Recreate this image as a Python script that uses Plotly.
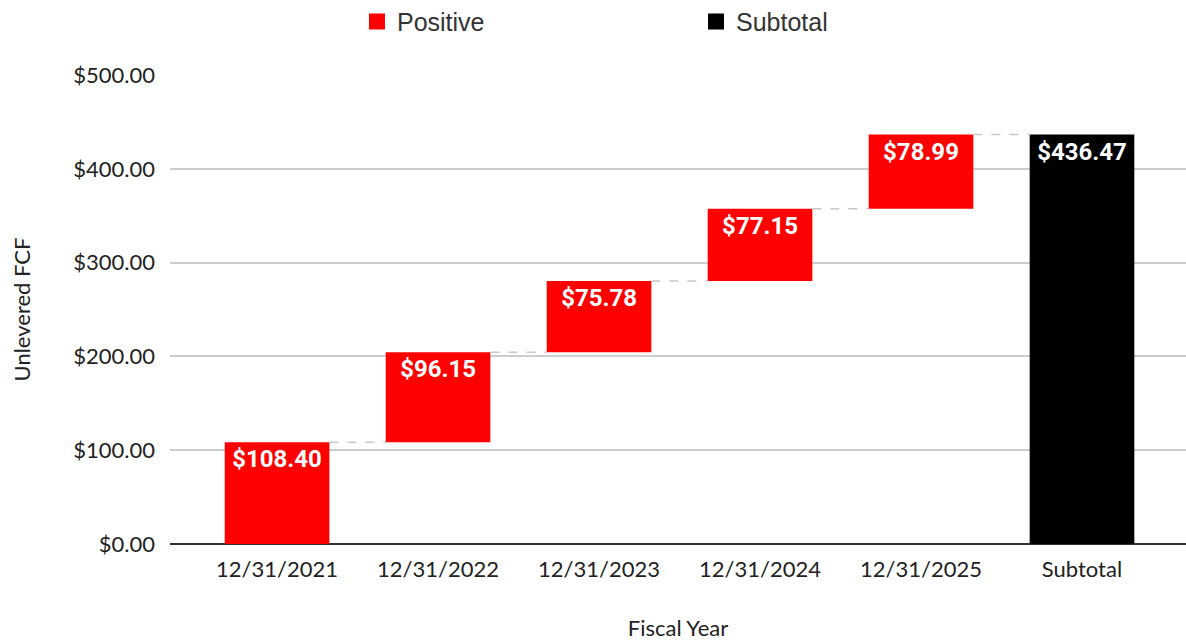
import numpy as np
import plotly.graph_objects as go

CATEGORIES = ["12/31/2021", "12/31/2022", "12/31/2023", "12/31/2024", "12/31/2025", "Subtotal"]
POSITIVE_VALUES = [108.40, 96.15, 75.78, 77.15, 78.99]
SUBTOTAL_VALUE = 436.47
Y_TICKS = [0, 100, 200, 300, 400, 500]

BAR_WIDTH = 0.65
RED = "#ff0000"
BLACK = "#000000"
AXIS_FONT = "Lato"

x_pos = np.arange(len(CATEGORIES))
ends = np.cumsum(POSITIVE_VALUES)
bases = ends - np.array(POSITIVE_VALUES)
levels = list(ends)

# dashed connectors: right edge of one bar to left edge of the next
conn_x, conn_y = [], []
for i, level in enumerate(levels):
    conn_x += [x_pos[i] + BAR_WIDTH / 2, x_pos[i + 1] - BAR_WIDTH / 2, None]
    conn_y += [level, level, None]

fig = go.Figure()
fig.add_trace(
    go.Bar(
        x=x_pos[:-1],
        y=POSITIVE_VALUES,
        base=bases,
        width=BAR_WIDTH,
        marker=dict(color=RED, line=dict(width=0)),
        text=[f"${v:.2f}" for v in POSITIVE_VALUES],
        textposition="inside",
        insidetextanchor="end",
        textangle=0,
        textfont=dict(family="Roboto", size=24, color="white", weight="bold"),
        showlegend=False,
    )
)
fig.add_trace(
    go.Bar(
        x=[x_pos[-1]],
        y=[SUBTOTAL_VALUE],
        width=BAR_WIDTH,
        marker=dict(color=BLACK, line=dict(width=0)),
        text=[f"${SUBTOTAL_VALUE:.2f}"],
        textposition="inside",
        insidetextanchor="end",
        textangle=0,
        textfont=dict(family="Roboto", size=24, color="white", weight="bold"),
        showlegend=False,
    )
)
fig.add_trace(
    go.Scatter(
        x=conn_x,
        y=conn_y,
        mode="lines",
        line=dict(color="#c8c8c8", width=1.5, dash="dash"),
        hoverinfo="skip",
        showlegend=False,
    )
)
# legend entries
for name, color in [("Positive", RED), ("Subtotal", BLACK)]:
    fig.add_trace(
        go.Scatter(
            x=[None],
            y=[None],
            mode="markers",
            name=name,
            marker=dict(symbol="square", size=16, color=color),
        )
    )

fig.update_layout(
    width=1186,
    height=641,
    plot_bgcolor="white",
    paper_bgcolor="white",
    margin=dict(t=75, b=97, l=170, r=0),
    barmode="overlay",
    legend=dict(
        orientation="h",
        xref="container",
        yref="container",
        x=0.301,
        xanchor="left",
        y=0.966,
        yanchor="middle",
        entrywidth=294,
        font=dict(family="Liberation Sans", size=25, color="#333333"),
        itemsizing="trace",
    ),
    xaxis=dict(
        range=[-0.665, 5.646],
        tickvals=x_pos,
        ticktext=CATEGORIES,
        showgrid=False,
        zeroline=False,
        ticks="",
        ticklabelstandoff=10,
        tickfont=dict(family=AXIS_FONT, size=22, color="#222222"),
        title=dict(
            text="Fiscal Year",
            font=dict(family=AXIS_FONT, size=22, color="#222222"),
            standoff=44,
        ),
    ),
    yaxis=dict(
        range=[0, 500],
        tickvals=Y_TICKS,
        ticktext=[f"${v:.2f}" for v in Y_TICKS],
        showgrid=True,
        gridcolor="#cccccc",
        gridwidth=1.5,
        zeroline=True,
        zerolinecolor="#333333",
        zerolinewidth=2,
        ticks="",
        ticklabelstandoff=14,
        tickfont=dict(family=AXIS_FONT, size=22, color="#222222"),
        title=dict(
            text="Unlevered FCF",
            font=dict(family=AXIS_FONT, size=22, color="#222222"),
            standoff=36,
        ),
    ),
)

fig.write_html(
    "out.html",
    config={"displayModeBar": False},
    post_script="document.body.style.margin = '0';",
)
